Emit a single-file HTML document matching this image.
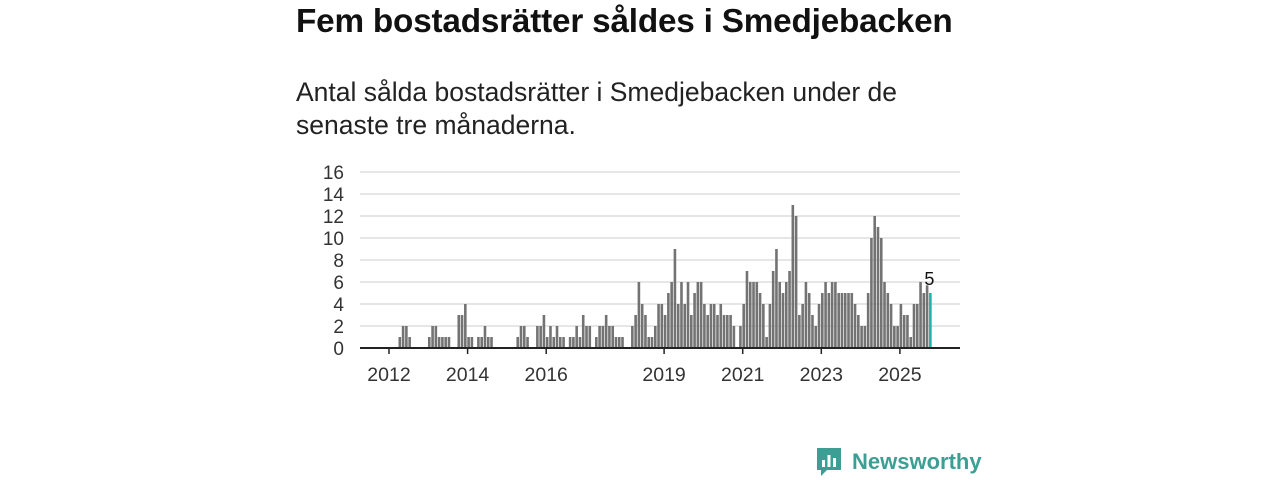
<!DOCTYPE html>
<html><head><meta charset="utf-8"><style>
body{margin:0;width:1280px;height:480px;background:#fff;font-family:"Liberation Sans",sans-serif;overflow:hidden;position:relative}
#title{position:absolute;left:296px;top:3px;font-size:33.3px;font-weight:bold;color:#111;margin:0;letter-spacing:-0.2px}
#sub{position:absolute;left:296px;top:76px;font-size:26.5px;line-height:33px;color:#222;width:620px}
svg{position:absolute;left:0;top:0}
</style></head><body>
<h1 id="title">Fem bostadsrätter såldes i Smedjebacken</h1>
<div id="sub">Antal sålda bostadsrätter i Smedjebacken under de senaste tre månaderna.</div>
<svg id="chart" width="1280" height="480"></svg>
<div style="position:absolute;left:815px;top:446px;display:flex;align-items:center">
<svg width="28" height="32" style="position:static" viewBox="0 0 28 32"><path d="M2 2h24v22H12l-6 6v-6H2z" fill="#3d9f93"/><rect x="7" y="14" width="3" height="7" fill="#fff"/><rect x="12.5" y="9" width="3" height="12" fill="#fff"/><rect x="18" y="12" width="3" height="9" fill="#fff"/></svg>
<span style="font-size:22px;font-weight:bold;color:#3d9f93;margin-left:9px">Newsworthy</span></div>
<script>
const values=[0,0,0,1,2,2,1,0,0,0,0,0,1,2,2,1,1,1,1,0,0,3,3,4,1,1,0,1,1,2,1,1,0,0,0,0,0,0,0,1,2,2,1,0,0,2,2,3,1,2,1,2,1,1,0,1,1,2,1,3,2,2,0,1,2,2,3,2,2,1,1,1,0,0,
2,3,6,4,3,1,1,2,4,4,3,5,6,9,4,6,4,6,3,5,6,6,4,3,4,4,3,4,3,3,3,2,0,
2,4,7,6,6,6,5,4,1,4,7,9,6,5,6,7,13,12,3,4,6,5,3,2,4,5,6,5,6,6,
5,5,5,5,5,4,3,2,2,5,10,12,11,10,6,5,4,2,2,4,3,3,1,4,4,6,5,5.7,5];
const yTicks=[0,2,4,6,8,10,12,14,16];
const xTickLabels=["2012","2014","2016","2019","2021","2023","2025"];
const xTickIndex=[0,24,48,84,108,132,156];
const NS="http://www.w3.org/2000/svg";
const svg=document.getElementById('chart');
const y=v=>348-v*11;
const x=i=>390+i*3.275;
function mk(t,a){const e=document.createElementNS(NS,t);for(const k in a)e.setAttribute(k,a[k]);svg.appendChild(e);return e;}
yTicks.forEach(v=>{
 if(v>0){const g=mk('line',{x1:360,x2:960,y1:y(v),y2:y(v),stroke:'#ddd','stroke-width':1.5});
 
 }
 const t=mk('text',{x:344,y:y(v)+7,'text-anchor':'end','font-size':19,fill:'#333','font-family':'Liberation Sans, sans-serif'});
 t.textContent=v;
 
 
});
values.forEach((v,i)=>{
 if(!v)return;
 const last=i===values.length-1;
 const r=mk('rect',{x:x(i)-1.3,y:y(v),width:2.6,height:v*11,fill:last?'#1fb3a5':'#737373'});
 
 
 if(last){const t=mk('text',{x:x(i)-1,y:y(v)-8,'text-anchor':'middle','font-size':18,fill:'#111','font-family':'Liberation Sans, sans-serif'});
 t.textContent=Math.round(v);
 
 }
});
const ax=mk('line',{x1:360,x2:960,y1:348,y2:348,stroke:'#222','stroke-width':2});


xTickLabels.forEach((l,k)=>{
 const xi=x(xTickIndex[k])-1;
 const tk=mk('line',{x1:xi,x2:xi,y1:348,y2:354,stroke:'#222','stroke-width':1.5});
 
 
 const t=mk('text',{x:xi,y:381,'text-anchor':'middle','font-size':19.5,fill:'#333','font-family':'Liberation Sans, sans-serif'});
 t.textContent=l;
 
 
});
</script>
</body></html>
